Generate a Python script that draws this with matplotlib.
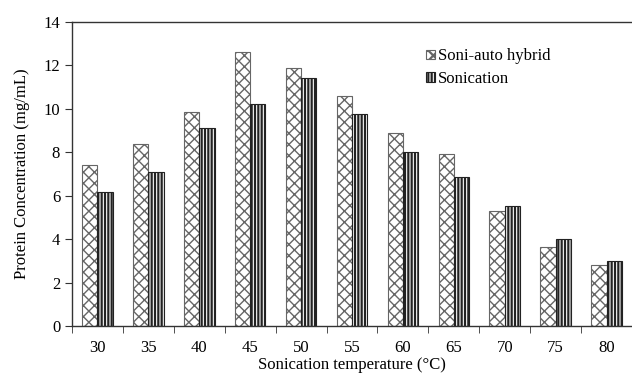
import matplotlib
matplotlib.use("Agg")
import matplotlib.pyplot as plt
import numpy as np

temps = ["30", "35", "40", "45", "50", "55", "60", "65", "70", "75", "80"]
hybrid = [7.42, 8.37, 9.85, 12.64, 11.9, 10.57, 8.88, 7.91, 5.3, 3.63, 2.81]
sonication = [6.17, 7.08, 9.12, 10.21, 11.4, 9.75, 8.0, 6.87, 5.53, 4.0, 3.01]

plt.rcParams['font.family'] = ['Liberation Serif', 'DejaVu Serif']
plt.rcParams['hatch.linewidth'] = 1.0

fig = plt.figure(figsize=(6.32, 3.77), dpi=100)
ax = fig.add_axes([72/632, 51/377, 560/632, 304/377])

x = np.arange(len(temps))
w = 0.3
ax.bar(x - w/2, hybrid, w, facecolor='white', edgecolor='#666666', hatch='xxx',
       linewidth=0.8, label='Soni-auto hybrid')
plt.rcParams['hatch.linewidth'] = 1.6
ax.bar(x + w/2, sonication, w, facecolor='white', edgecolor='#222222', hatch='|||||',
       linewidth=0.8, label='Sonication')

ax.set_xlim(-0.5, len(temps) - 0.5)
ax.set_ylim(0, 14)
ax.set_yticks(np.arange(0, 15, 2))
ax.set_xticks(x)
ax.set_xticklabels(temps)
ax.set_xticks(np.arange(-0.5, len(temps), 1.0), minor=True)
ax.tick_params(axis='x', which='major', length=0, labelsize=12, pad=10)
ax.tick_params(axis='x', which='minor', length=5, direction='out', color='#333333')
ax.tick_params(axis='y', length=5, direction='out', labelsize=12, color='#333333')

ax.spines['right'].set_visible(False)
for s in ['left', 'bottom', 'top']:
    ax.spines[s].set_color('#333333')
    ax.spines[s].set_linewidth(1.0)

ax.set_xlabel('Sonication temperature (°C)', fontsize=12, labelpad=1)
ax.set_ylabel('Protein Concentration (mg/mL)', fontsize=12, labelpad=10)

ax.legend(loc='upper left', bbox_to_anchor=(418/632, 1 - 40/377), bbox_transform=fig.transFigure,
          frameon=False, fontsize=12, handlelength=0.5, handleheight=0.5, handletextpad=0.2,
          borderpad=0, labelspacing=0.4)

fig.savefig('out.png', dpi=100)
